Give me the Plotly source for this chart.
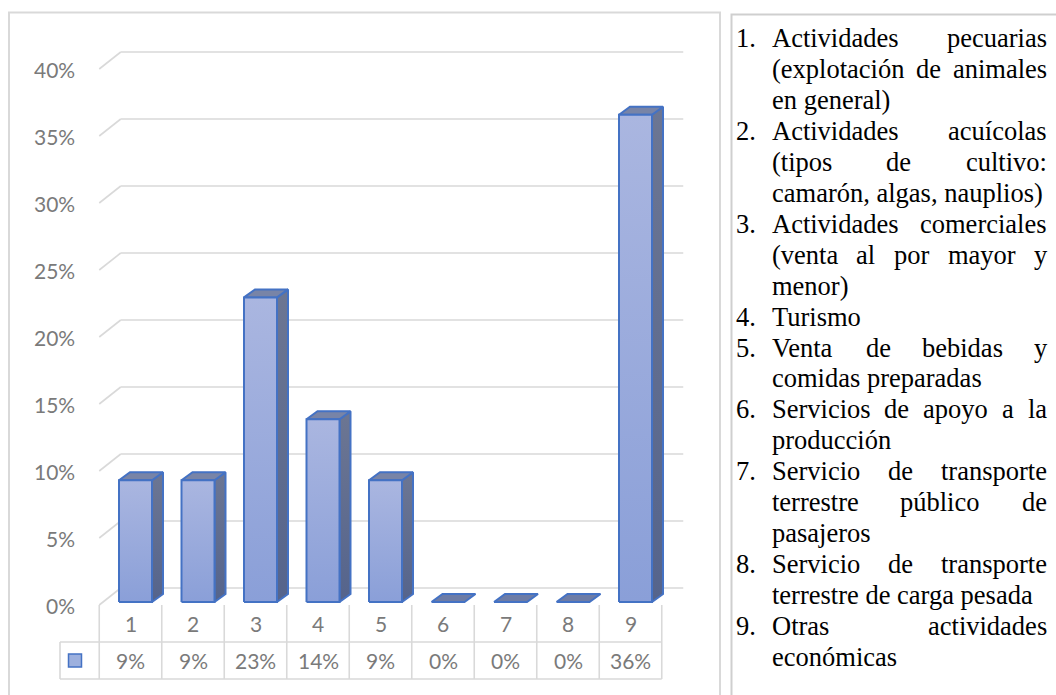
import plotly.graph_objects as go

# ---------------------------------------------------------------- data
categories = ["1", "2", "3", "4", "5", "6", "7", "8", "9"]
shares = [0.0909, 0.0909, 0.2273, 0.1364, 0.0909, 0.0, 0.0, 0.0, 0.3636]
y_ticks = [0.00, 0.05, 0.10, 0.15, 0.20, 0.25, 0.30, 0.35, 0.40]
y_tick_labels = ["0%", "5%", "10%", "15%", "20%", "25%", "30%", "35%", "40%"]

activity_lines = [
    ["Actividades pecuarias", "(explotación de animales", "en general)"],
    ["Actividades acuícolas", "(tipos de cultivo:", "camarón, algas, nauplios)"],
    ["Actividades comerciales", "(venta al por mayor y", "menor)"],
    ["Turismo"],
    ["Venta de bebidas y", "comidas preparadas"],
    ["Servicios de apoyo a la", "producción"],
    ["Servicio de transporte", "terrestre público de", "pasajeros"],
    ["Servicio de transporte", "terrestre de carga pesada"],
    ["Otras actividades", "económicas"],
]

# ---------------------------------------------------------------- geometry
W, H = 1056, 695
CAT_PX = 62.5          # pixels per category step
VAL_PX = 1340.0        # pixels per unit share
X_FIRST_PX = 130.5     # pixel column of category 1
Y_ZERO_PX = 602.0      # pixel row of zero at the bar fronts


def dx(px):
    return px / CAT_PX


def dy(px):
    return px / VAL_PX


x_range = [1 - X_FIRST_PX / CAT_PX, 1 + (W - X_FIRST_PX) / CAT_PX]
y_range = [-(H - Y_ZERO_PX) / VAL_PX, Y_ZERO_PX / VAL_PX]

GRID = "#d9d9d9"
TXT = "#7a7a7a"
EDGE = "#4472c4"
CHART_FONT = "Lato"

# 3D projection of the walls / bars
WALL_DX, WALL_DY = dx(21.5), dy(17)      # floor depth
FRONT_DROP = dy(3)                        # floor front edge below bar base
BAR_SHIFT = dx(5)                         # bar front offset into the depth
BAR_HALF = dx(16.5)
BAR_DX, BAR_DY = dx(11), dy(8)            # bar depth

n_cat = len(categories)
x_pos = list(range(1, n_cat + 1))
left_edge = 0.5
right_edge = n_cat + 0.5

fig = go.Figure()
shapes = []
annotations = []

# back wall gridlines with their diagonal floor-side stubs
for t in y_ticks:
    yb = t - FRONT_DROP + WALL_DY
    shapes.append(dict(type="line", xref="x", yref="y",
                       x0=left_edge + WALL_DX, x1=right_edge + WALL_DX, y0=yb, y1=yb,
                       line=dict(color=GRID, width=1.6), layer="below"))
    shapes.append(dict(type="line", xref="x", yref="y",
                       x0=left_edge, x1=left_edge + WALL_DX, y0=t - FRONT_DROP, y1=yb,
                       line=dict(color=GRID, width=1.6), layer="below"))

# tick labels
for t, lab in zip(y_ticks, y_tick_labels):
    annotations.append(dict(x=left_edge - dx(22), y=t - FRONT_DROP, xref="x", yref="y",
                            text=lab, showarrow=False, xanchor="right", yanchor="middle",
                            font=dict(family=CHART_FONT, size=21, color=TXT)))

# columns: side face, top face, front face
for xc, v in zip(x_pos, shares):
    xl = xc + BAR_SHIFT - BAR_HALF
    xr = xc + BAR_SHIFT + BAR_HALF
    if v > 0:
        fig.add_trace(go.Scatter(
            x=[xr, xr + BAR_DX, xr + BAR_DX, xr, xr],
            y=[0, BAR_DY, v + BAR_DY, v, 0],
            mode="lines", fill="toself",
            fillgradient=dict(type="vertical",
                              colorscale=[[0, "#55648c"], [1, "#6c7693"]]),
            line=dict(color=EDGE, width=2), hoverinfo="skip", showlegend=False))
    fig.add_trace(go.Scatter(
        x=[xl, xr, xr + BAR_DX, xl + BAR_DX, xl],
        y=[v, v, v + BAR_DY, v + BAR_DY, v],
        mode="lines", fill="toself",
        fillcolor="#7884a7" if v > 0 else "#6d7ca6",
        line=dict(color=EDGE, width=2), hoverinfo="skip", showlegend=False))
    if v > 0:
        fig.add_trace(go.Scatter(
            x=[xl, xr, xr, xl, xl],
            y=[0, 0, v, v, 0],
            mode="lines", fill="toself",
            fillgradient=dict(type="vertical",
                              colorscale=[[0, "#8a9fd8"], [1, "#aab6e0"]]),
            line=dict(color=EDGE, width=2), hoverinfo="skip", showlegend=False))

# data table below the floor
row_top = -FRONT_DROP
row_mid = -dy(40)
row_bot = -dy(77)
key_left = 1 + (60 - X_FIRST_PX) / CAT_PX
bounds = [left_edge + k for k in range(n_cat + 1)]
for b in bounds:
    shapes.append(dict(type="line", xref="x", yref="y", x0=b, x1=b, y0=row_top, y1=row_bot,
                       line=dict(color=GRID, width=1.6)))
shapes.append(dict(type="line", xref="x", yref="y", x0=key_left, x1=key_left,
                   y0=row_mid, y1=row_bot, line=dict(color=GRID, width=1.6)))
for yy in (row_mid, row_bot):
    shapes.append(dict(type="line", xref="x", yref="y", x0=key_left, x1=right_edge,
                       y0=yy, y1=yy, line=dict(color=GRID, width=1.6)))

for xc, cat, v in zip(x_pos, categories, shares):
    annotations.append(dict(x=xc, y=(row_top + row_mid) / 2, xref="x", yref="y", text=cat,
                            showarrow=False, xanchor="center", yanchor="middle",
                            font=dict(family=CHART_FONT, size=21, color=TXT)))
    annotations.append(dict(x=xc, y=(row_mid + row_bot) / 2, xref="x", yref="y",
                            text=f"{v:.0%}", showarrow=False, xanchor="center",
                            yanchor="middle",
                            font=dict(family=CHART_FONT, size=21, color=TXT)))

# legend key in the table
fig.add_trace(go.Scatter(
    x=[key_left + dx(15)], y=[(row_mid + row_bot) / 2], mode="markers",
    marker=dict(symbol="square", size=13, color="#9db0de",
                line=dict(color=EDGE, width=1.5)),
    hoverinfo="skip", showlegend=False))

# panel frames
def px_x(px):
    return px / W


def px_y(py):
    return 1 - py / H


shapes.append(dict(type="rect", xref="paper", yref="paper",
                   x0=px_x(9), x1=px_x(720), y0=px_y(720), y1=px_y(12.5),
                   line=dict(color="#d9d9d9", width=2)))
shapes.append(dict(type="rect", xref="paper", yref="paper",
                   x0=px_x(731.5), x1=px_x(1080), y0=px_y(720), y1=px_y(14.5),
                   line=dict(color="#cfcfcf", width=2)))

# ---------------------------------------------------------------- list text
TIMES = {" ": 250, "(": 333, ")": 333, ",": 250, ".": 250, ":": 278,
         "A": 722, "C": 667, "E": 611, "O": 722, "P": 556, "S": 556, "T": 611, "V": 722,
         "a": 444, "b": 500, "c": 444, "d": 500, "e": 444, "f": 333, "g": 500, "h": 500,
         "i": 278, "j": 278, "k": 500, "l": 278, "m": 778, "n": 500, "o": 500, "p": 500,
         "q": 500, "r": 333, "s": 389, "t": 278, "u": 500, "v": 500, "w": 722, "x": 500,
         "y": 500, "z": 444, "á": 444, "é": 444, "í": 278, "ó": 500, "ú": 500}
LIST_SIZE = 26.5
LIST_FONT = dict(family="Liberation Serif, Times New Roman, serif", size=LIST_SIZE,
                 color="#000000")
NUM_X = 735.0
TEXT_L, TEXT_R = 770.5, 1046.0
LINE0, LINE_H = 38.0, 30.95


def width_px(s):
    return sum(TIMES.get(ch, 500) for ch in s) / 1000.0 * LIST_SIZE


def put(text, x_px, y_px):
    annotations.append(dict(x=px_x(x_px), y=px_y(y_px), xref="paper", yref="paper",
                            text=text, showarrow=False, xanchor="left", yanchor="middle",
                            borderpad=0, font=LIST_FONT))


row = 0
for k, lines in enumerate(activity_lines, start=1):
    for j, line in enumerate(lines):
        y_px = LINE0 + row * LINE_H
        if j == 0:
            put(f"{k}.", NUM_X, y_px)
        words = line.split(" ")
        justify = j < len(lines) - 1 and len(words) > 1
        if justify:
            total = sum(width_px(w) for w in words)
            gap = (TEXT_R - TEXT_L - total) / (len(words) - 1)
            x = TEXT_L
            for w in words:
                put(w, x, y_px)
                x += width_px(w) + gap
        else:
            put(line, TEXT_L, y_px)
        row += 1

fig.update_layout(
    width=W, height=H, margin=dict(l=0, r=0, t=0, b=0),
    paper_bgcolor="white", plot_bgcolor="white",
    xaxis=dict(range=x_range, visible=False, fixedrange=True),
    yaxis=dict(range=y_range, visible=False, fixedrange=True),
    shapes=shapes, annotations=annotations, showlegend=False,
)

fig.write_html("out.html", config={"displayModeBar": False})
